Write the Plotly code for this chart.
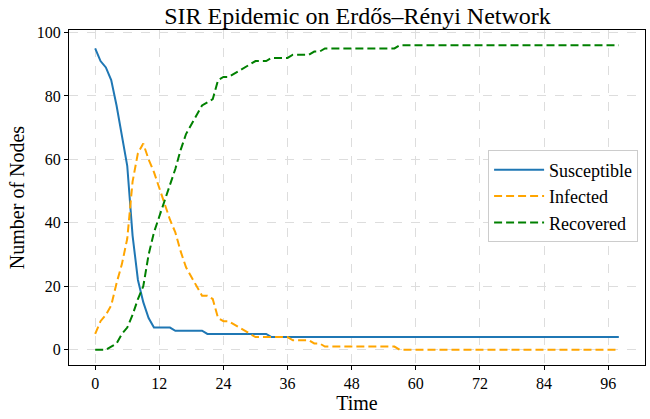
import plotly.graph_objects as go

time = list(range(99))
susceptible = [95, 91, 89, 85, 77, 68, 58, 36, 22, 15, 10, 7, 7, 7, 7, 6, 6, 6, 6, 6,
               6, 5, 5, 5, 5, 5, 5, 5, 5, 5, 5, 5, 5] + [4] * 66
infected = [5, 9, 11, 14, 21, 27, 35, 53, 62, 65, 60, 56, 51, 46, 41, 37, 31, 26, 23, 20,
            17, 17, 16, 10, 9, 9, 8, 7, 6, 5, 4, 4, 4, 4, 4, 4, 4, 3, 3, 3,
            3, 2, 2] + [1] * 14 + [0] * 42
recovered = [0, 0, 0, 1, 2, 5, 7, 11, 16, 20, 30, 37, 42, 47, 52, 57, 63, 68, 71, 74,
             77, 78, 79, 85, 86, 86, 87, 88, 89, 90, 91, 91, 91, 92, 92, 92, 92, 93, 93, 93,
             93, 94, 94] + [95] * 14 + [96] * 42

x_ticks = [0, 12, 24, 36, 48, 60, 72, 84, 96]
y_ticks = [0, 20, 40, 60, 80, 100]

FONT = "Liberation Serif, Times New Roman, serif"

fig = go.Figure()
fig.add_trace(go.Scatter(x=time, y=susceptible, mode="lines", name="Susceptible",
                         line=dict(color="#1f77b4", width=2)))
fig.add_trace(go.Scatter(x=time, y=infected, mode="lines", name="Infected",
                         line=dict(color="#FFA500", width=2, dash="8px,4px")))
fig.add_trace(go.Scatter(x=time, y=recovered, mode="lines", name="Recovered",
                         line=dict(color="#008000", width=2, dash="8px,4px")))

axis_common = dict(showline=True, linecolor="black", linewidth=1, mirror=True,
                   ticks="outside", ticklen=4, tickcolor="black",
                   showgrid=True, gridcolor="#dddddd", griddash="dash", gridwidth=1,
                   zeroline=False, tickfont=dict(family=FONT, size=16, color="black"))

fig.update_xaxes(range=[-4.9, 102.9], tickvals=x_ticks,
                 title=dict(text="Time", font=dict(family=FONT, size=20, color="black"), standoff=2),
                 **axis_common)
fig.update_yaxes(range=[-4.8, 100.8], tickvals=y_ticks,
                 title=dict(text="Number of Nodes", font=dict(family=FONT, size=20, color="black"), standoff=6),
                 **axis_common)

fig.update_layout(
    width=650, height=419,
    margin=dict(l=69, r=5, t=30, b=54),
    plot_bgcolor="white", paper_bgcolor="white",
    title=dict(text="SIR Epidemic on Erdős–Rényi Network", x=0.55, xanchor="center",
               y=0.962, yanchor="middle",
               font=dict(family=FONT, size=24, color="black")),
    legend=dict(x=0.988, xanchor="right", y=0.503, yanchor="middle",
                bgcolor="white", bordercolor="#cccccc", borderwidth=1,
                font=dict(family=FONT, size=18, color="black"),
                itemwidth=50, tracegroupgap=2),
    showlegend=True,
)

fig.write_html("out.html")
